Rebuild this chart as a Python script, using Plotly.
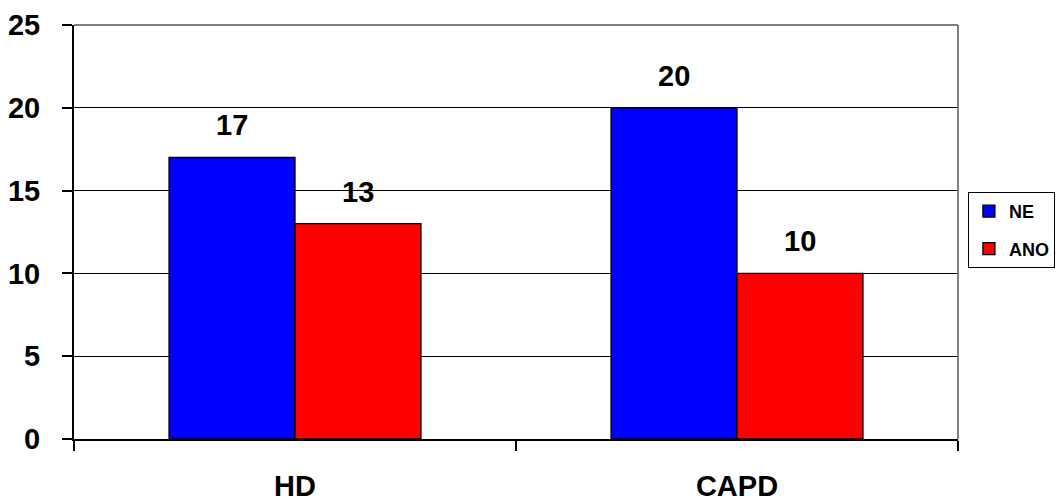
import plotly.graph_objects as go

categories = ["HD", "CAPD"]
ne_values = [17, 20]
ano_values = [13, 10]
series_names = ["NE", "ANO"]

bar_w = 0.285
font_family = "Liberation Sans, Arial, sans-serif"

fig = go.Figure()
fig.add_trace(go.Bar(
    x=categories, y=ne_values, name=series_names[0], legendgroup="g1",
    width=bar_w, offset=-bar_w,
    marker=dict(color="#0000FF", line=dict(color="black", width=1.3)),
))
fig.add_trace(go.Bar(
    x=categories, y=ano_values, name=series_names[1], legendgroup="g2",
    width=bar_w, offset=0,
    marker=dict(color="#FF0000", line=dict(color="black", width=1.3)),
))

# value labels above each bar
annotations = []
for i, (a, b) in enumerate(zip(ne_values, ano_values)):
    for xpos, val in ((i - bar_w / 2, a), (i + bar_w / 2, b)):
        annotations.append(dict(
            x=xpos, y=val, xref="x", yref="y", text=str(val),
            showarrow=False, yanchor="middle", yshift=32,
            font=dict(family=font_family, size=29, color="black", weight="bold"),
        ))

fig.update_layout(
    width=1059, height=502,
    margin=dict(l=74, r=101, t=25, b=63, autoexpand=False),
    paper_bgcolor="white", plot_bgcolor="white",
    barmode="group",
    font=dict(family=font_family, color="black"),
    annotations=annotations,
    showlegend=True,
    legend=dict(
        xref="container", yref="container",
        x=0.914, y=0.6175, xanchor="left", yanchor="top",
        bordercolor="black", borderwidth=1, bgcolor="white",
        font=dict(family=font_family, size=18, color="black", weight="bold"),
        tracegroupgap=11, itemwidth=30,
    ),
    xaxis=dict(
        type="category", range=[-0.5, 1.5], automargin=False,
        showgrid=False, showline=True, linecolor="black", linewidth=2,
        ticks="outside", tickson="boundaries", ticklen=10, tickwidth=2, tickcolor="black",
        ticklabelstandoff=20,
        tickfont=dict(family=font_family, size=29, color="black", weight="bold"),
    ),
    yaxis=dict(
        range=[0, 25], dtick=5, tick0=0, automargin=False,
        showgrid=True, gridcolor="black", gridwidth=1.3,
        zeroline=False,
        showline=True, linecolor="black", linewidth=2,
        ticks="outside", ticklen=10, tickwidth=2, tickcolor="black",
        ticklabelstandoff=16,
        tickfont=dict(family=font_family, size=29, color="black", weight="bold"),
    ),
    shapes=[
        dict(type="line", xref="paper", yref="paper", x0=0, x1=1, y0=1, y1=1,
             line=dict(color="#808080", width=2), layer="above"),
        dict(type="line", xref="paper", yref="paper", x0=1, x1=1, y0=0, y1=1,
             line=dict(color="#808080", width=2), layer="above"),
    ],
)

fig.write_html("out.html")
